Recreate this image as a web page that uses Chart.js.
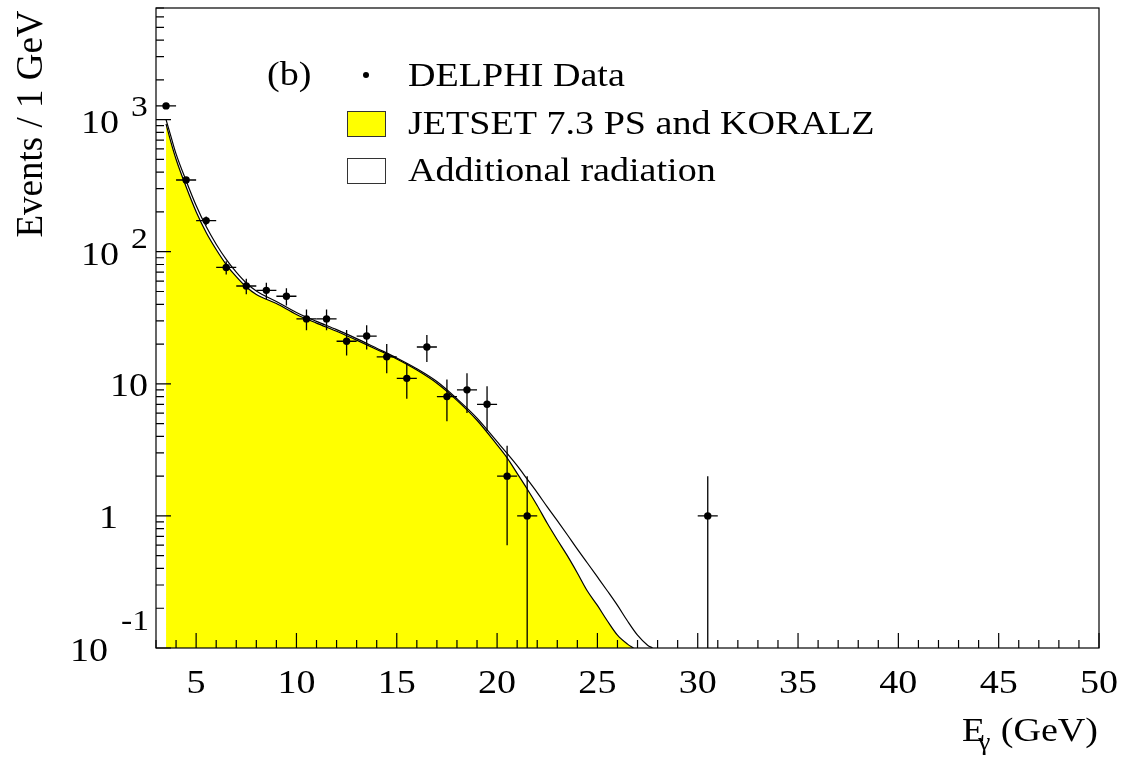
<!DOCTYPE html>
<html>
<head>
<meta charset="utf-8">
<script src="https://cdn.jsdelivr.net/npm/chart.js@4.4.1/dist/chart.umd.min.js"></script>
<style>
  html, body { margin: 0; padding: 0; background: #fff; }
  #wrap { width: 1134px; height: 760px; }
</style>
</head>
<body>
<div id="wrap"><canvas id="photonChart"></canvas></div>
<script>
// DELPHI data, 1 GeV bins
const binCentres = [3.5, 4.5, 5.5, 6.5, 7.5, 8.5, 9.5, 10.5, 11.5, 12.5, 13.5, 14.5, 15.5, 16.5, 17.5, 18.5, 19.5, 20.5, 21.5, 30.5];
const delphiEvents = [1270, 349, 172, 76, 55, 51, 46, 31, 31, 21, 23, 16, 11, 19, 8, 9, 7, 2, 1, 1];
const delphiErrors = [35.6, 18.7, 13.1, 8.7, 7.4, 7.1, 6.8, 5.6, 5.6, 4.6, 4.8, 4.0, 3.3, 4.4, 2.8, 3.0, 2.6, 1.4, 1.0, 1.0];

// JETSET 7.3 PS and KORALZ (yellow)
const jetsetE = [3.5, 3.75, 4, 4.5, 5, 5.5, 6, 6.5, 7, 7.5, 8, 9, 10, 11, 12, 13, 14, 15, 16, 17, 18, 19, 20, 20.5, 21, 21.5, 22, 22.5, 23, 23.5, 24, 24.5, 25, 25.5, 26, 26.5, 26.8];
const jetsetY = [930, 670, 501, 310, 201, 140, 104, 80, 64.7, 54, 47.5, 40.5, 33.5, 28.8, 25, 21.4, 18.2, 15.4, 12.7, 10.1, 7.5, 5.3, 3.45, 2.75, 2.1, 1.6, 1.2, 0.88, 0.66, 0.5, 0.37, 0.27, 0.21, 0.16, 0.125, 0.107, 0.1];

// with additional radiation (upper line)
const radE = [3.5, 3.75, 4, 4.5, 5, 5.5, 6, 6.5, 7, 7.5, 8, 9, 10, 11, 12, 13, 14, 15, 16, 17, 18, 19, 20, 20.5, 21, 21.5, 22, 22.5, 23, 23.5, 24, 24.5, 25, 25.5, 26, 26.5, 27, 27.5, 27.75];
const radY = [1000, 740, 550, 345, 224, 155, 114, 87.5, 70, 58, 50.5, 42, 34.7, 29.7, 25.7, 22, 18.6, 15.7, 13, 10.4, 7.7, 5.5, 3.65, 2.97, 2.4, 1.9, 1.5, 1.17, 0.92, 0.72, 0.56, 0.44, 0.345, 0.27, 0.21, 0.16, 0.125, 0.105, 0.1];

const xTickValues = [5, 10, 15, 20, 25, 30, 35, 40, 45, 50];
const yTickValues = [0.1, 1, 10, 100, 1000];
const yTickBase = ['10', '1', '10', '10', '10'];
const yTickSup = ['-1', '', '', '2', '3'];

const SERIF = "'Liberation Serif', 'Times New Roman', serif";

function txt(ctx, str, x, y, size, align, sx) {
    ctx.save();
    ctx.translate(x, y);
    ctx.scale(sx || 1.12, 1);
    ctx.font = size + 'px ' + SERIF;
    ctx.textAlign = align || 'left';
    ctx.textBaseline = 'alphabetic';
    ctx.fillStyle = '#000';
    ctx.fillText(str, 0, 0);
    ctx.restore();
}

const frameAndText = {
    id: 'frameAndText',
    afterDatasetsDraw(chart) {
        const ctx = chart.ctx;
        const xs = chart.scales.x;
        const ys = chart.scales.y;
        const a = chart.chartArea;

        // error bars
        ctx.save();
        ctx.beginPath();
        ctx.rect(a.left, a.top, a.right - a.left, a.bottom - a.top);
        ctx.clip();
        ctx.strokeStyle = '#000';
        ctx.lineWidth = 1.3;
        for (let i = 0; i < binCentres.length; i++) {
            const px = xs.getPixelForValue(binCentres[i]);
            const py = ys.getPixelForValue(delphiEvents[i]);
            const lo = delphiEvents[i] - delphiErrors[i];
            const pyLo = lo > 0 ? ys.getPixelForValue(lo) : a.bottom + 5;
            const pyHi = ys.getPixelForValue(delphiEvents[i] + delphiErrors[i]);
            ctx.beginPath();
            ctx.moveTo(px, pyHi);
            ctx.lineTo(px, pyLo);
            ctx.moveTo(xs.getPixelForValue(binCentres[i] - 0.5), py);
            ctx.lineTo(xs.getPixelForValue(binCentres[i] + 0.5), py);
            ctx.stroke();
        }
        ctx.restore();
    },
    afterDraw(chart) {
        const ctx = chart.ctx;
        const xs = chart.scales.x;
        const ys = chart.scales.y;
        const a = chart.chartArea;

        ctx.save();
        ctx.strokeStyle = '#000';
        ctx.lineWidth = 1.2;
        ctx.strokeRect(a.left, a.top, a.right - a.left, a.bottom - a.top);

        // x ticks, inside
        ctx.beginPath();
        for (let v = 3; v <= 50; v++) {
            const px = xs.getPixelForValue(v);
            const len = v % 5 === 0 ? 15 : 8;
            ctx.moveTo(px, a.bottom);
            ctx.lineTo(px, a.bottom - len);
        }
        // y ticks, inside
        for (let d = -1; d <= 3; d++) {
            for (let m = 1; m <= 9; m++) {
                const v = m * Math.pow(10, d);
                if (v < ys.min || v > ys.max) continue;
                const py = ys.getPixelForValue(v);
                ctx.moveTo(a.left, py);
                ctx.lineTo(a.left + (m === 1 ? 15 : 8), py);
            }
        }
        ctx.stroke();
        ctx.restore();

        // x tick labels
        xTickValues.forEach(v => {
            txt(ctx, String(v), xs.getPixelForValue(v), 693, 34, 'center');
        });

        // y tick labels
        const baseRight = [108, 118, 148, 119, 119];
        const baseDy = [13, 12, 12, 13, 13];
        const supLeft = [121, 0, 0, 131, 131];
        const supDy = [-18, 0, 0, -4, -4];
        yTickValues.forEach((v, i) => {
            const py = ys.getPixelForValue(v);
            txt(ctx, yTickBase[i], baseRight[i], py + baseDy[i], 34, 'right');
            if (yTickSup[i]) txt(ctx, yTickSup[i], supLeft[i], py + supDy[i], 30, 'left');
        });

        // axis titles
        txt(ctx, '(GeV)', 1098, 741, 34, 'right');
        txt(ctx, '\u03b3', 978, 750, 25, 'left');
        txt(ctx, 'E', 962, 741, 34, 'left');

        ctx.save();
        ctx.translate(42, 124);
        ctx.rotate(-Math.PI / 2);
        ctx.font = '37px ' + SERIF;
        ctx.textAlign = 'center';
        ctx.fillStyle = '#000';
        ctx.fillText('Events / 1 GeV', 0, 0);
        ctx.restore();

        // legend
        txt(ctx, '(b)', 267, 85, 34, 'left');
        ctx.beginPath();
        ctx.fillStyle = '#000';
        ctx.arc(366, 75, 3, 0, Math.PI * 2);
        ctx.fill();
        txt(ctx, 'DELPHI Data', 408, 86, 34, 'left');

        ctx.save();
        ctx.strokeStyle = '#333';
        ctx.lineWidth = 1;
        ctx.fillStyle = '#ffff00';
        ctx.fillRect(347, 111, 38, 25);
        ctx.strokeRect(347.5, 111.5, 38, 25);
        ctx.fillStyle = '#fff';
        ctx.fillRect(347, 158, 38, 25);
        ctx.strokeRect(347.5, 158.5, 38, 25);
        ctx.restore();
        txt(ctx, 'JETSET 7.3 PS and KORALZ', 408, 134, 34, 'left');
        txt(ctx, 'Additional radiation', 408, 181, 34, 'left');
    }
};

const ctx = document.getElementById('photonChart').getContext('2d');

new Chart(ctx, {
    type: 'line',
    data: {
        datasets: [
            {
                label: 'DELPHI Data',
                data: binCentres.map((e, i) => ({ x: e, y: delphiEvents[i] })),
                showLine: false,
                pointRadius: 3.7,
                pointBackgroundColor: '#000',
                pointBorderWidth: 0,
            },
            {
                label: 'JETSET 7.3 PS and KORALZ',
                data: jetsetE.map((e, i) => ({ x: e, y: jetsetY[i] })),
                borderColor: '#000',
                borderWidth: 1.2,
                backgroundColor: '#ffff00',
                fill: 'start',
                pointRadius: 0,
                cubicInterpolationMode: 'monotone',
            },
            {
                label: 'Additional radiation',
                data: radE.map((e, i) => ({ x: e, y: radY[i] })),
                borderColor: '#000',
                borderWidth: 1.2,
                fill: false,
                pointRadius: 0,
                cubicInterpolationMode: 'monotone',
            },
        ],
    },
    options: {
        responsive: true,
        maintainAspectRatio: false,
        animation: false,
        layout: { padding: { left: 0, top: 8, right: 35, bottom: 0 } },
        scales: {
            x: {
                type: 'linear',
                min: 3,
                max: 50,
                ticks: { display: false },
                grid: { display: false },
                border: { display: false },
                afterFit: (scale) => { scale.height = 112; },
            },
            y: {
                type: 'logarithmic',
                min: 0.1,
                max: 7000,
                ticks: { display: false },
                grid: { display: false },
                border: { display: false },
                afterFit: (scale) => { scale.width = 156; },
            },
        },
        plugins: {
            legend: { display: false },
            tooltip: { enabled: false },
        },
    },
    plugins: [frameAndText],
});
</script>
</body>
</html>
